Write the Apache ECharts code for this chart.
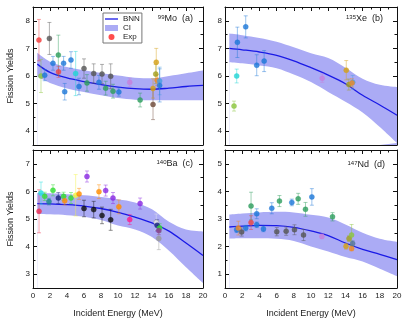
<!DOCTYPE html>
<html><head><meta charset="utf-8">
<script src="https://cdn.jsdelivr.net/npm/echarts@6/dist/echarts.min.js"></script>
<style>html,body{margin:0;padding:0;background:#fff}#c{width:407px;height:325px}</style>
</head><body><div id="c"></div><script>
// ---------- BNN curves (x grid shared) ----------
const curveX = [0.5, 2, 4, 6, 8, 10, 12, 14, 16, 18, 20];
const moLine  = [6.43, 6.13, 5.93, 5.80, 5.69, 5.60, 5.54, 5.52, 5.56, 5.62, 5.66];
const moUpper = [6.84, 6.52, 6.33, 6.21, 6.11, 6.02, 5.94, 5.92, 6.00, 6.10, 6.20];
const moLower = [5.98, 5.75, 5.55, 5.42, 5.30, 5.20, 5.14, 5.12, 5.12, 5.12, 5.12];
const xeLine  = [7.00, 6.95, 6.87, 6.75, 6.55, 6.30, 6.03, 5.72, 5.30, 4.95, 4.58];
const xeUpper = [7.54, 7.48, 7.38, 7.24, 7.04, 6.82, 6.65, 6.30, 5.90, 5.68, 5.60];
const xeLower = [6.50, 6.46, 6.38, 6.28, 6.05, 5.78, 5.42, 5.07, 4.68, 4.15, 3.57];
const baLine  = [5.56, 5.55, 5.52, 5.47, 5.38, 5.24, 5.07, 4.86, 4.56, 4.13, 3.68];
const baUpper = [5.94, 5.93, 5.90, 5.86, 5.80, 5.72, 5.60, 5.35, 4.90, 4.62, 4.55];
const baLower = [5.18, 5.17, 5.14, 5.08, 4.96, 4.76, 4.62, 4.35, 3.85, 3.25, 2.68];
const ndLine  = [2.71, 2.74, 2.77, 2.76, 2.70, 2.57, 2.40, 2.13, 1.90, 1.72, 1.53];
const ndUpper = [3.16, 3.20, 3.24, 3.26, 3.24, 3.15, 3.05, 2.80, 2.50, 2.28, 2.17];
const ndLower = [2.29, 2.30, 2.30, 2.28, 2.20, 2.00, 1.82, 1.62, 1.46, 1.20, 0.93];

// ---------- Experimental points ----------
const moX   = [0.70, 0.94, 1.38, 1.93, 2.35, 2.98, 3.00, 3.60, 3.73, 4.47, 5.02, 5.41, 6.00, 6.35, 7.14, 7.76, 8.12, 8.55, 9.14, 9.41, 10.1, 11.38, 12.6, 14.12, 14.12, 14.50, 14.44, 14.60, 14.90, 14.90];
const moY   = [7.30, 6.00, 6.03, 7.36, 6.46, 6.76, 6.15, 6.46, 5.43, 6.58, 6.09, 5.62, 6.27, 5.75, 6.09, 5.77, 6.07, 5.56, 5.99, 5.45, 5.42, 5.77, 5.13, 4.97, 5.55, 6.50, 6.07, 5.85, 5.82, 5.66];
const moErr = [0.75, 0.60, 0.20, 0.58, 0.25, 0.72, 0.20, 0.25, 0.30, 0.30, 0.80, 0.30, 0.35, 0.30, 0.35, 0.25, 0.35, 0.25, 0.45, 0.25, 0.15, 0.15, 0.25, 0.55, 0.35, 0.50, 0.35, 0.20, 0.50, 0.60];
const moColors = ['#f23a3a','#8cc63f','#1e78d8','#555555','#1e78d8','#2e9e5e','#e84545','#1e78d8','#1e78d8','#1e78d8','#22d4d4','#1e78d8','#555555','#2e9e5e','#555555','#1e78d8','#555555','#2e9e5e','#555555','#2e9e5e','#1e78d8','#c77fdc','#2e9e5e','#6e4a3a','#d4a017','#d4a017','#a3a021','#f08a24','#4aa0e0','#1e78d8'];

const xeX   = [1.05, 1.36, 1.44, 2.41, 3.69, 4.55, 11.3, 14.1, 14.4, 14.85, 14.77];
const xeY   = [4.91, 6.00, 7.22, 7.78, 6.39, 6.54, 5.92, 6.21, 5.69, 5.77, 5.75];
const xeErr = [0.18, 0.25, 0.55, 0.40, 0.38, 0.38, 0.15, 0.35, 0.20, 0.25, 0.15];
const xeColors = ['#8cc63f','#22d4d4','#1e78d8','#1e78d8','#1e78d8','#1e78d8','#c77fdc','#d4a017','#a3a021','#4aa0e0','#f08a24'];

const baX   = [0.71, 0.94, 1.38, 1.88, 2.35, 2.98, 3.60, 3.73, 4.47, 5.02, 5.42, 6.00, 6.35, 7.14, 7.76, 8.12, 8.55, 9.14, 9.41, 10.1, 11.38, 12.6, 14.5, 14.6, 14.9, 14.8, 14.8];
const baY   = [5.28, 5.94, 5.82, 5.63, 6.04, 5.76, 5.82, 5.66, 5.76, 5.86, 5.91, 5.38, 6.54, 5.34, 5.99, 5.13, 6.03, 4.97, 5.76, 5.44, 4.98, 5.56, 4.88, 4.77, 4.68, 4.58, 4.29];
const baErr = [0.78, 0.40, 0.15, 0.12, 0.20, 0.20, 0.15, 0.15, 0.20, 0.75, 0.20, 0.30, 0.20, 0.30, 0.25, 0.30, 0.20, 0.38, 0.20, 0.25, 0.18, 0.20, 0.30, 0.20, 0.15, 0.15, 0.40];
const baColors = ['#f03050','#22e0e0','#33dd33','#1a8a8a','#33dd33','#1a237e','#33dd33','#ff8c00','#33dd33','#f5f542','#ff8c00','#111111','#8a2be2','#111111','#ff8c00','#111111','#8a2be2','#111111','#8a2be2','#ff8c00','#ff1a8c','#8a2be2','#e8e8e8','#1a237e','#33dd33','#8b3a8b','#999999'];

const ndX   = [1.36, 1.55, 1.94, 2.41, 3.03, 3.03, 3.69, 3.69, 4.47, 5.44, 6.02, 6.33, 7.11, 7.77, 8.08, 8.51, 9.13, 9.36, 10.1, 11.27, 12.5, 14.07, 14.42, 14.72, 14.72, 14.84];
const ndY   = [2.61, 2.67, 2.53, 2.67, 3.47, 2.87, 2.79, 3.19, 2.64, 3.39, 2.54, 3.65, 2.56, 3.60, 2.61, 3.73, 2.42, 3.35, 3.80, 2.37, 3.08, 2.01, 2.29, 2.42, 1.93, 2.11];
const ndErr = [0.10, 0.25, 0.15, 0.10, 0.50, 0.25, 0.10, 0.18, 0.10, 0.20, 0.15, 0.20, 0.15, 0.12, 0.18, 0.20, 0.20, 0.25, 0.30, 0.08, 0.15, 0.10, 0.10, 0.38, 0.08, 0.10];
const ndColors = ['#1e78d8','#f08a24','#555555','#1e78d8','#2e9e5e','#e84545','#1e78d8','#1e78d8','#1e78d8','#1e78d8','#555555','#2e9e5e','#555555','#1e78d8','#555555','#2e9e5e','#555555','#2e9e5e','#1e78d8','#c77fdc','#2e9e5e','#d4a017','#a3a021','#8cc63f','#f08a24','#557799'];

// ---------- Tick / axis text ----------
const xAxisName = 'Incident Energy (MeV)';
const yAxisName = 'Fission Yields';
const legendNames = ['BNN', 'CI', 'Exp'];

const FONT = '"Liberation Sans", Arial, sans-serif';
const BAND = '#ababf5';
const LINE = '#1a1ae6';
const TXT = '#222';
const SMOOTH = 0.35;

const panels = [
  {grid:{left:33, top:7, width:170, height:138}, ymin:3.5, ymax:8.5, xl:false, yn:true, mass:'99', el:'Mo', tag:'(a)', tr:214, tt:14,
   line:moLine, up:moUpper, lo:moLower, px:moX, py:moY, pe:moErr, pc:moColors},
  {grid:{left:225, top:7, width:172, height:138}, ymin:3.5, ymax:8.5, xl:false, yn:false, mass:'135', el:'Xe', tag:'(b)', tr:24, tt:14,
   line:xeLine, up:xeUpper, lo:xeLower, px:xeX, py:xeY, pe:xeErr, pc:xeColors},
  {grid:{left:33, top:150, width:170, height:138}, ymin:2.5, ymax:7.5, xl:true, yn:true, mass:'140', el:'Ba', tag:'(c)', tr:214, tt:159,
   line:baLine, up:baUpper, lo:baLower, px:baX, py:baY, pe:baErr, pc:baColors},
  {grid:{left:225, top:150, width:172, height:138}, ymin:0.5, ymax:5.5, xl:true, yn:false, mass:'147', el:'Nd', tag:'(d)', tr:22, tt:160,
   line:ndLine, up:ndUpper, lo:ndLower, px:ndX, py:ndY, pe:ndErr, pc:ndColors}
];

const grids=[], xAxes=[], yAxes=[], series=[], titles=[];
const axisLine = {show:true, onZero:false, lineStyle:{color:'#111', width:1}};
const noLine = {show:false, onZero:false};
const tickColor = {color:'#111'};

panels.forEach((p, i) => {
  grids.push(p.grid);
  const xb = {type:'value', gridIndex:i, min:0, max:20, interval:2, axisLine,
    axisTick:{inside:true, length:4, lineStyle:tickColor},
    minorTick:{show:true, splitNumber:2, length:2.5, lineStyle:tickColor},
    splitLine:{show:false}, minorSplitLine:{show:false}};
  xAxes.push(Object.assign({}, xb, {position:'bottom',
    axisLabel:{show:p.xl, fontSize:8, color:TXT, margin:4, fontFamily:FONT},
    name:p.xl ? xAxisName : '', nameLocation:'middle', nameGap:21,
    nameTextStyle:{fontSize:9, color:TXT, fontFamily:FONT}}));
  xAxes.push(Object.assign({}, xb, {position:'top', axisLabel:{show:false}}));

  const ints = [];
  for (let v = Math.ceil(p.ymin); v <= p.ymax; v++) ints.push(v);
  const yb = {type:'value', gridIndex:i, min:p.ymin, max:p.ymax, interval:0.5,
    splitLine:{show:false}, minorTick:{show:false}};
  yAxes.push(Object.assign({}, yb, {position:'left', axisLine,
    axisTick:{inside:true, length:2.5, lineStyle:tickColor},
    axisLabel:{show:true, fontSize:8, color:TXT, margin:3, fontFamily:FONT,
      formatter: v => (Math.abs(v - Math.round(v)) < 1e-6 ? String(Math.round(v)) : '')},
    name:p.yn ? yAxisName : '', nameLocation:'middle', nameGap:18,
    nameTextStyle:{fontSize:9, color:TXT, fontFamily:FONT}}));
  yAxes.push(Object.assign({}, yb, {position:'right', axisLine,
    axisTick:{inside:true, length:2.5, lineStyle:tickColor}, axisLabel:{show:false}}));
  yAxes.push(Object.assign({}, yb, {position:'left', axisLine:noLine,
    axisTick:{inside:true, length:4, lineStyle:tickColor, customValues:ints}, axisLabel:{show:false}}));
  yAxes.push(Object.assign({}, yb, {position:'right', axisLine:noLine,
    axisTick:{inside:true, length:4, lineStyle:tickColor, customValues:ints}, axisLabel:{show:false}}));

  const xi = 2*i, yi = 4*i;
  series.push({type:'line', name:'CI', xAxisIndex:xi, yAxisIndex:yi, symbol:'none', smooth:SMOOTH, silent:true,
    lineStyle:{width:0, opacity:0}, itemStyle:{color:BAND}, areaStyle:{color:BAND, opacity:1, origin:'start'},
    data: curveX.map((x,k)=>[x, p.up[k]]), z:1});
  series.push({type:'line', xAxisIndex:xi, yAxisIndex:yi, symbol:'none', smooth:SMOOTH, silent:true,
    lineStyle:{width:0, opacity:0}, areaStyle:{color:'#ffffff', opacity:1, origin:'start'},
    data: curveX.map((x,k)=>[x, p.lo[k]]), z:1});
  series.push({type:'line', name:'BNN', xAxisIndex:xi, yAxisIndex:yi, symbol:'none', smooth:SMOOTH, silent:true,
    lineStyle:{color:LINE, width:1.3}, itemStyle:{color:LINE}, data: curveX.map((x,k)=>[x, p.line[k]]), z:2});
  const cols = p.pc;
  series.push({type:'custom', xAxisIndex:xi, yAxisIndex:yi, silent:true, z:3,
    data: p.px.map((x,k)=>[x, p.py[k]-p.pe[k], p.py[k]+p.pe[k]]),
    renderItem: (params, api) => {
      const x = api.value(0);
      const a = api.coord([x, api.value(2)]), b = api.coord([x, api.value(1)]);
      const c = cols[params.dataIndex]; const w = 2;
      const st = {stroke:c, lineWidth:1, opacity:0.45};
      return {type:'group', children:[
        {type:'line', shape:{x1:a[0], y1:a[1], x2:b[0], y2:b[1]}, style:st},
        {type:'line', shape:{x1:a[0]-w, y1:a[1], x2:a[0]+w, y2:a[1]}, style:st},
        {type:'line', shape:{x1:b[0]-w, y1:b[1], x2:b[0]+w, y2:b[1]}, style:st}
      ]};
    }});
  series.push({type:'scatter', xAxisIndex:xi, yAxisIndex:yi, symbolSize:5, silent:true, z:4,
    data: p.px.map((x,k)=>({value:[x, p.py[k]], itemStyle:{color:cols[k], borderColor: cols[k]==='#e8e8e8' ? '#888' : cols[k], borderWidth:0.5}}))});

  titles.push({text:'{s|'+p.mass+'}'+p.el+'  '+p.tag, right:p.tr, top:p.tt, padding:0,
    textStyle:{fontSize:9, fontWeight:'normal', color:TXT, fontFamily:FONT,
      rich:{s:{fontSize:6, verticalAlign:'top', color:TXT, fontFamily:FONT}}}});
});

series.push({type:'scatter', name:'Exp', xAxisIndex:0, yAxisIndex:0, data:[], itemStyle:{color:'#ff2020'}});

const chart = echarts.init(document.getElementById('c'), null, {renderer:'canvas'});
chart.setOption({
  animation:false,
  backgroundColor:'#fff',
  title: titles,
  grid: grids,
  xAxis: xAxes,
  yAxis: yAxes,
  legend: {orient:'vertical', left:103, top:13, selectedMode:false,
    data:[{name:legendNames[0], icon:'path://M0,0 L20,0 L20,2 L0,2 Z'}, {name:legendNames[1], icon:'rect'}, {name:legendNames[2], icon:'circle'}],
    itemWidth:13, itemHeight:6, itemGap:1, padding:[2,2,2,2],
    borderColor:'#777', borderWidth:1, backgroundColor:'#fff',
    textStyle:{fontSize:8, lineHeight:8, color:TXT, fontFamily:FONT}},
  series
});
</script></body></html>
